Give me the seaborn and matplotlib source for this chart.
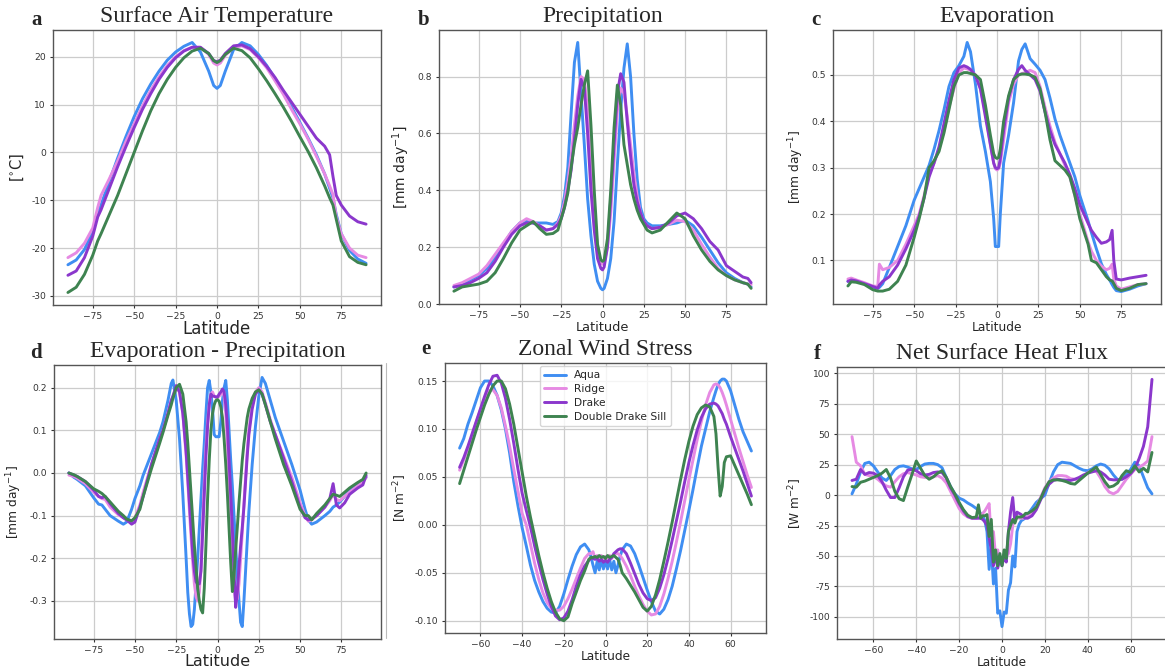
import numpy as np
import pandas as pd
import matplotlib
matplotlib.use("Agg")
import matplotlib.pyplot as plt
from matplotlib.lines import Line2D
from matplotlib.ticker import FormatStrFormatter
import seaborn as sns

# ---------------------------------------------------------------- runs
runs = ["Aqua", "Ridge", "Drake", "Double Drake Sill"]
run_colors = ["#3f8ef2", "#e68ae3", "#8b37cc", "#3e8350"]

# ---------------------------------------------------------------- (a) surface air temperature [degC]
lat_a = [-90, -85, -80, -75, -72, -70, -65, -60, -55, -50, -45, -40, -35, -30, -25, -20, -15, -10, -5, -2, 0,
         2, 5, 10, 15, 20, 25, 30, 35, 40, 45, 50, 55, 60, 65, 68, 70, 72, 75, 80, 85, 90]
sat_aqua = [-23.5, -22.5, -20.3, -16.5, -13, -11, -6, -1.2, 3.3, 7.5, 11.2, 14.3, 17, 19.3, 21, 22.2, 23, 21, 17, 14, 13.4,
            14, 17, 21.5, 23, 22.3, 20.5, 18.2, 15.5, 12.5, 9.5, 6.3, 3, -0.5, -4.5, -7.5, -9.5, -13, -17, -20.5, -22.3, -23.2]
sat_ridge = [-22, -21, -19, -15.8, -11.5, -9, -5.5, -1.8, 2.3, 6, 9.7, 13, 15.8, 18.2, 20, 21.3, 22, 22, 20.5, 18.7, 18.3,
             18.7, 20.3, 22, 22.3, 21.5, 19.8, 17.7, 15, 12.2, 9, 6, 2.8, -0.8, -4.5, -7, -8.8, -13.5, -17, -20, -21.5, -22]
sat_drake = [-25.7, -24.8, -22, -17.5, -13.5, -12, -7.5, -3, 1.2, 5.2, 9, 12.3, 15.3, 17.8, 19.8, 21.2, 22, 22, 20.7, 19.2, 19,
             19.3, 20.7, 22.3, 22.5, 21.7, 20, 18, 15.7, 13, 10.5, 8, 5.5, 3, 1.3, -0.5, -5, -9, -11, -13.3, -14.5, -15]
sat_dds = [-29.3, -28.2, -25.5, -21.5, -18.5, -17, -13, -9, -4.5, 0, 4.5, 8.7, 12.3, 15.3, 17.8, 19.8, 21.2, 21.8, 20.7, 19.2, 18.8,
           19.2, 20.5, 21.8, 21.3, 19.8, 17.5, 15, 12.3, 9.5, 6.5, 3.3, 0.2, -3.2, -7, -9.5, -11, -14, -18.5, -21.8, -23, -23.5]

# ---------------------------------------------------------------- (b) precipitation [mm/day]
lat_b = [-90, -85, -80, -75, -70, -65, -60, -55, -50, -46, -42, -38, -34, -30, -27, -25, -23, -21, -19, -17, -15, -13, -11,
         -9, -7, -5, -3, -1, 0, 1, 3, 5, 7, 9, 11, 13, 15, 17, 19, 21, 23, 25, 27, 30, 35, 40, 45, 50, 55, 60, 65, 70, 75,
         80, 85, 88, 90]
pr_aqua = [.06, .07, .085, .1, .125, .165, .21, .255, .285, .292, .285, .285, .285, .28, .29, .32, .38, .48, .67, .85, .92,
           .74, .56, .37, .24, .14, .08, .055, .05, .055, .09, .16, .29, .49, .68, .83, .915, .8, .6, .44, .34, .3, .285,
           .275, .275, .28, .285, .295, .275, .235, .19, .145, .11, .09, .075, .07, .06]
pr_ridge = [.065, .075, .09, .105, .135, .175, .215, .255, .285, .3, .29, .275, .26, .265, .285, .31, .36, .43, .52, .63, .73,
            .8, .79, .68, .5, .33, .2, .145, .14, .145, .2, .32, .5, .68, .76, .74, .66, .56, .46, .38, .32, .29, .275,
            .265, .27, .28, .295, .29, .26, .21, .165, .125, .1, .085, .075, .07, .068]
pr_drake = [.06, .065, .075, .09, .11, .15, .2, .245, .275, .285, .285, .275, .26, .265, .28, .3, .34, .4, .47, .58, .7,
            .79, .76, .6, .4, .26, .16, .125, .12, .13, .2, .37, .56, .74, .81, .78, .64, .52, .42, .36, .32, .29, .275,
            .265, .27, .285, .31, .32, .3, .265, .22, .19, .135, .115, .095, .09, .075]
pr_dds = [.045, .06, .065, .07, .08, .11, .16, .215, .26, .275, .29, .265, .245, .248, .26, .3, .34, .39, .48, .56, .62,
          .7, .77, .82, .63, .4, .21, .155, .15, .155, .23, .4, .62, .77, .7, .56, .49, .42, .37, .33, .3, .28, .26,
          .25, .26, .29, .32, .3, .24, .19, .15, .12, .1, .085, .075, .07, .055]

# ---------------------------------------------------------------- (c) evaporation [mm/day]
lat_c = [-90, -88, -85, -80, -75, -72, -71, -69, -65, -60, -55, -50, -47, -44, -41, -38, -35, -32, -29, -26, -23, -20, -18,
         -16, -13, -10, -7, -4, -2, -1, 0, 1, 2, 4, 7, 10, 13, 15, 17, 20, 23, 26, 29, 32, 35, 38, 41, 44, 47, 50, 55,
         57, 60, 63, 66, 68, 69.5, 70.5, 72, 75, 80, 85, 90]
ev_aqua = [.055, .057, .055, .05, .043, .04, .042, .05, .085, .13, .175, .23, .255, .28, .305, .34, .38, .425, .475, .505,
           .52, .54, .57, .55, .48, .39, .335, .27, .19, .13, .13, .13, .2, .31, .37, .44, .53, .555, .567, .535, .523,
           .51, .49, .45, .405, .37, .34, .31, .28, .24, .185, .16, .125, .093, .07, .058, .048, .042, .035, .033, .038,
           .045, .05]
ev_ridge = [.06, .062, .058, .052, .045, .044, .092, .08, .085, .1, .135, .175, .2, .24, .285, .31, .34, .38, .43, .47,
            .505, .515, .513, .51, .5, .47, .42, .35, .31, .298, .295, .298, .31, .36, .44, .48, .5, .503, .505, .51,
            .505, .475, .43, .39, .355, .33, .305, .28, .24, .2, .14, .12, .1, .088, .08, .083, .092, .06, .045, .038,
            .043, .048, .05]
ev_drake = [.055, .058, .056, .05, .044, .04, .047, .055, .065, .09, .125, .165, .195, .235, .28, .31, .345, .395, .445,
            .49, .515, .52, .517, .512, .498, .47, .41, .35, .31, .3, .298, .3, .32, .38, .45, .49, .512, .52, .51, .5,
            .49, .465, .42, .38, .35, .33, .31, .285, .255, .22, .18, .165, .15, .137, .14, .145, .165, .1, .06, .058,
            .062, .065, .068]
ev_dds = [.045, .054, .053, .048, .037, .034, .034, .034, .038, .055, .09, .15, .19, .235, .3, .315, .335, .375, .425,
          .475, .5, .505, .505, .503, .5, .49, .435, .37, .33, .322, .32, .322, .34, .4, .455, .49, .5, .502, .502, .5,
          .495, .47, .42, .36, .315, .305, .295, .28, .24, .19, .135, .1, .095, .08, .065, .058, .056, .05, .04, .035,
          .04, .048, .05]

# ---------------------------------------------------------------- (d) evaporation minus precipitation [mm/day]
lat_d = [-90, -87, -85, -80, -75, -72, -70, -68, -65, -60, -57, -55, -52, -50, -47, -45, -40, -35, -33, -30, -28, -27,
         -25, -23, -21, -19, -18, -17, -16, -15, -14, -13, -12, -11, -10, -9, -8, -7, -6, -5, -4, -3, -2, -1, 0, 1, 2,
         3, 4, 5, 6, 7, 8, 9, 10, 11, 12, 13, 14, 15, 16, 17, 18, 19, 21, 23, 25, 27, 29, 32, 35, 40, 45, 50, 53, 55,
         57, 60, 65, 68, 70, 72, 74, 77, 80, 85, 88, 90]
emp_aqua = [0, -.01, -.015, -.03, -.058, -.073, -.075, -.085, -.1, -.113, -.12, -.115, -.085, -.06, -.03, -.005, .045,
            .095, .12, .17, .21, .218, .17, .08, -.05, -.2, -.28, -.33, -.36, -.355, -.32, -.26, -.2, -.13, -.06, .01,
            .07, .14, .2, .217, .19, .15, .09, .085, .085, .085, .12, .17, .2, .217, .17, .1, .03, -.03, -.1, -.17, -.24,
            -.3, -.35, -.36, -.3, -.23, -.16, -.09, .02, .11, .18, .224, .21, .17, .13, .075, .02, -.04, -.085, -.11,
            -.12, -.115, -.1, -.09, -.08, -.075, -.068, -.055, -.04, -.025, -.018, -.01]
emp_ridge = [-.005, -.008, -.012, -.025, -.045, -.055, -.06, -.062, -.08, -.098, -.105, -.11, -.115, -.105, -.075,
             -.045, .02, .08, .1, .14, .17, .18, .2, .19, .14, .04, -.02, -.09, -.15, -.21, -.26, -.29, -.3, -.28,
             -.22, -.12, -.02, .06, .12, .16, .185, .19, .18, .178, .178, .18, .185, .19, .18, .14, .07, -.02, -.12,
             -.21, -.27, -.3, -.295, -.26, -.2, -.14, -.07, -.01, .05, .1, .16, .19, .2, .19, .165, .125, .09, .04,
             -.01, -.07, -.1, -.113, -.11, -.1, -.08, -.065, -.05, -.062, -.065, -.055, -.045, -.03, -.022, -.01]
emp_drake = [0, -.005, -.008, -.02, -.04, -.055, -.058, -.055, -.072, -.095, -.105, -.11, -.12, -.115, -.08, -.055,
             .02, .08, .1, .14, .17, .18, .205, .19, .14, .05, -.01, -.07, -.13, -.19, -.23, -.255, -.26, -.26, -.23,
             -.14, -.05, .04, .11, .16, .185, .18, .18, .178, .178, .185, .19, .197, .19, .16, .11, .03, -.05, -.13,
             -.23, -.315, -.28, -.22, -.17, -.127, -.08, -.02, .04, .09, .15, .185, .195, .185, .16, .12, .09, .035,
             -.02, -.08, -.105, -.11, -.108, -.1, -.08, -.06, -.025, -.075, -.082, -.07, -.05, -.035, -.028, -.005]
emp_dds = [0, -.004, -.008, -.02, -.037, -.043, -.048, -.055, -.068, -.09, -.1, -.108, -.112, -.105, -.085, -.055, .01,
           .07, .095, .135, .16, .175, .2, .208, .185, .12, .07, .01, -.05, -.11, -.17, -.22, -.27, -.3, -.32, -.328,
           -.27, -.17, -.06, .03, .1, .14, .16, .17, .172, .168, .155, .13, .08, .02, -.05, -.13, -.21, -.278, -.24,
           -.18, -.127, -.07, -.02, .03, .069, .1, .13, .15, .175, .19, .195, .185, .16, .12, .08, .02, -.03, -.085,
           -.1, -.1, -.11, -.095, -.075, -.06, -.05, -.052, -.055, -.045, -.035, -.022, -.015, 0]

# ---------------------------------------------------------------- (e) zonal wind stress [N/m2]
lat_e = [-70, -68, -66, -64, -62, -60, -58, -56, -54, -52, -50, -48, -46, -44, -42, -40, -38, -36, -34, -32, -30, -28,
         -26, -24, -22, -20, -18, -16, -14, -12, -10, -8, -7, -6, -5, -4, -3, -2, -1, 0, 1, 2, 3, 4, 5, 6, 7, 8, 10, 12,
         14, 16, 18, 20, 22, 24, 26, 28, 30, 32, 34, 36, 38, 40, 42, 44, 46, 48, 50, 52, 53, 54, 55, 56, 57, 58, 60, 62,
         64, 66, 68, 70]
tau_aqua = [.08, .09, .105, .117, .13, .143, .15, .15, .145, .135, .12, .1, .075, .045, .02, -.003, -.022, -.042, -.058,
            -.07, -.08, -.087, -.091, -.092, -.085, -.072, -.057, -.043, -.031, -.023, -.02, -.026, -.033, -.042, -.05,
            -.038, -.047, -.036, -.046, -.038, -.046, -.036, -.047, -.038, -.05, -.042, -.033, -.026, -.02, -.022, -.03,
            -.042, -.055, -.068, -.08, -.09, -.093, -.088, -.078, -.064, -.046, -.027, -.006, .015, .037, .06, .082, .1,
            .118, .133, .14, .146, .15, .152, .152, .15, .14, .125, .11, .097, .087, .077]
tau_ridge = [.057, .068, .08, .093, .107, .12, .132, .14, .141, .135, .122, .103, .082, .058, .035, .012, 0, -.02, -.04,
             -.057, -.071, -.081, -.087, -.089, -.089, -.085, -.077, -.067, -.056, -.045, -.035, -.03, -.03, -.028,
             -.035, -.032, -.036, -.032, -.035, -.033, -.035, -.032, -.035, -.032, -.03, -.03, -.032, -.035, -.043,
             -.053, -.064, -.074, -.083, -.09, -.094, -.093, -.085, -.072, -.056, -.038, -.018, .003, .025, .047, .068,
             .089, .108, .125, .138, .146, .147, .146, .143, .138, .132, .125, .11, .095, .08, .066, .052, .039]
tau_drake = [.06, .07, .082, .095, .108, .121, .134, .146, .155, .156, .148, .132, .11, .085, .058, .033, .015, -.002,
             -.022, -.04, -.057, -.072, -.085, -.095, -.099, -.097, -.09, -.078, -.064, -.052, -.043, -.037, -.035,
             -.035, -.036, -.035, -.038, -.036, -.039, -.037, -.039, -.036, -.034, -.03, -.028, -.026, -.025, -.025,
             -.03, -.04, -.051, -.062, -.071, -.077, -.079, -.076, -.066, -.052, -.035, -.016, .004, .024, .045, .065,
             .083, .099, .112, .121, .126, .127, .126, .124, .12, .116, .11, .105, .092, .08, .068, .056, .043, .03]
tau_dds = [.043, .057, .071, .085, .099, .112, .125, .136, .145, .15, .15, .142, .126, .105, .08, .055, .03, .008, -.012,
           -.032, -.05, -.066, -.08, -.091, -.098, -.1, -.096, -.082, -.07, -.058, -.048, -.036, -.034, -.034, -.033,
           -.034, -.032, -.034, -.033, -.035, -.032, -.034, -.033, -.032, -.034, -.036, -.042, -.05, -.056, -.063, -.07,
           -.078, -.086, -.09, -.085, -.073, -.057, -.038, -.018, .003, .025, .047, .068, .087, .103, .115, .122, .125,
           .123, .113, .095, .06, .03, .04, .065, .071, .072, .062, .052, .042, .032, .021]

# ---------------------------------------------------------------- (f) net surface heat flux [W/m2]
lat_f = [-70, -68, -66, -64, -62, -60, -58, -56, -54, -52, -50, -48, -46, -44, -42, -40, -38, -36, -34, -32, -30, -28,
         -26, -24, -22, -20, -18, -16, -14, -12, -11, -10, -9, -8, -7, -6, -5, -4, -3, -2, -1, 0, 1, 2, 3, 4, 5, 6, 7,
         8, 9, 10, 11, 12, 14, 16, 18, 20, 22, 24, 26, 28, 30, 32, 34, 36, 38, 40, 42, 44, 46, 48, 50, 52, 54, 56, 58,
         60, 62, 64, 66, 68, 70]
qnet_aqua = [1, 9, 19, 26, 27, 24, 19, 14, 12, 16, 21, 23.5, 24, 23, 21.5, 21, 23.5, 25.5, 26, 26, 25, 22.5, 14.5, 7,
             1, -2.5, -4, -6.5, -8.5, -11, -12.4, -15, -17, -21, -30, -61, -42, -73, -60, -97, -95, -108, -96, -97,
             -78, -72, -50, -59, -30, -24, -21, -20, -18, -16, -11, -6, -3, 0, 10, 19, 25, 27, 26.5, 26, 24, 22, 20.5,
             20, 21.5, 24, 25.5, 24.5, 21.5, 16.5, 12.5, 13, 16.5, 21, 27, 24, 15, 6, 1]
qnet_ridge = [48, 27, 24, 17, 16, 15.5, 13, 10, 7.5, 6.5, 11, 15, 17.5, 18.5, 17.5, 16.5, 15, 14.5, 14.5, 15, 16, 14,
              10, 3, -4, -11, -15.5, -18, -19, -19, -18.5, -17, -15, -13, -10, -7, -38, -30, -50, -45, -55, -55, -52,
              -50, -48, -40, -25, -18, -18, -19, -19, -19, -18, -17.5, -15, -10, -2, 6, 11, 14, 16, 16, 15.5, 13.5, 13,
              13, 15.5, 18.5, 20, 19.5, 14, 7, 2.5, 1, 3, 8, 13, 17, 21, 23, 25, 28, 48]
qnet_drake = [12, 13, 21, 17, 18.5, 18, 16, 11, 4, -2, -2, 6, 15, 20.5, 21, 20, 17.5, 16.5, 17, 18.5, 19, 18.5, 14, 6,
              0, -7, -13, -17.5, -19, -19, -19, -19, -20, -22, -25, -35, -45, -58, -48, -60, -52, -58, -50, -55, -30,
              -14, -2, -22, -14, -15, -16, -18, -19, -19, -17, -12, -4, 4, 9, 12, 13, 12.5, 12.3, 12, 13, 14.5, 16.5,
              18, 19, 20, 19, 16.5, 13, 12.5, 12.5, 13, 15, 17.5, 22, 30, 40, 56, 95]
qnet_dds = [7, 6.5, 10.5, 11.5, 13, 14.5, 16, 18, 21, 14, 3, -3, -4.5, 6.5, 17, 28, 22, 16, 13, 15, 18, 20, 14.5, 7, 1,
            -6, -12, -16.5, -18.5, -18, -8, -19, -17, -17, -16, -34, -20, -55, -45, -58, -48, -58, -45, -52, -30, -25,
            -20, -23, -18, -18, -18, -17, -15, -15, -13, -10, -3, 5, 11, 12.5, 12.5, 12, 11, 9.5, 9, 12, 15, 18, 20.5,
            23, 17, 11, 6.5, 7.5, 10, 16, 20, 18.6, 24, 19, 22, 19, 35]

# ---------------------------------------------------------------- panel definitions
panels = [
    dict(letter="a", title="Surface Air Temperature", ylabel=r"[$^{\circ}$C]", lat=lat_a,
         series=[sat_aqua, sat_ridge, sat_drake, sat_dds], box=(53, 381, 30, 305),
         xticks=[-75, -50, -25, 0, 25, 50, 75], yticks=[-30, -20, -10, 0, 10, 20], fmt="%d",
         labsize=12, xlabpad=-0.5, ylabsize=10.5, letter_xy=(31, 25)),
    dict(letter="b", title="Precipitation", ylabel=r"[mm day$^{-1}$]", lat=lat_b,
         series=[pr_aqua, pr_ridge, pr_drake, pr_dds], box=(439, 766, 30, 304),
         xticks=[-75, -50, -25, 0, 25, 50, 75], yticks=[0.0, 0.2, 0.4, 0.6, 0.8], fmt="%.1f",
         labsize=9.3, xlabpad=1, ylabsize=10, letter_xy=(418, 25)),
    dict(letter="c", title="Evaporation", ylabel=r"[mm day$^{-1}$]", lat=lat_c,
         series=[ev_aqua, ev_ridge, ev_drake, ev_dds], box=(833, 1161, 30, 304),
         xticks=[-75, -50, -25, 0, 25, 50, 75], yticks=[0.1, 0.2, 0.3, 0.4, 0.5], fmt="%.1f",
         labsize=8.8, xlabpad=1, ylabsize=8.8, letter_xy=(811, 25)),
    dict(letter="d", title="Evaporation - Precipitation", ylabel=r"[mm day$^{-1}$]", lat=lat_d,
         series=[emp_aqua, emp_ridge, emp_drake, emp_dds], box=(54, 381, 365, 639),
         xticks=[-75, -50, -25, 0, 25, 50, 75], yticks=[-0.3, -0.2, -0.1, 0.0, 0.1, 0.2], fmt="%.1f",
         labsize=11.5, xlabpad=-1, ylabsize=8.8, letter_xy=(30, 358)),
    dict(letter="e", title="Zonal Wind Stress", ylabel=r"[N m$^{-2}$]", lat=lat_e,
         series=[tau_aqua, tau_ridge, tau_drake, tau_dds], box=(445, 766, 363, 633),
         xticks=[-60, -40, -20, 0, 20, 40, 60], yticks=[-0.10, -0.05, 0.0, 0.05, 0.10, 0.15], fmt="%.2f",
         labsize=8.7, xlabpad=1, ylabsize=8.7, letter_xy=(421, 354)),
    dict(letter="f", title="Net Surface Heat Flux", ylabel=r"[W m$^{-2}$]", lat=lat_f,
         series=[qnet_aqua, qnet_ridge, qnet_drake, qnet_dds], box=(837, 1167, 367, 639),
         xticks=[-60, -40, -20, 0, 20, 40, 60], yticks=[-100, -75, -50, -25, 0, 25, 50, 75, 100], fmt="%d",
         labsize=8.7, xlabpad=1, ylabsize=8.7, letter_xy=(814, 359)),
]

# ---------------------------------------------------------------- figure
W, H = 1165, 670
sns.set_style("ticks", {"axes.grid": True, "grid.color": "#cccccc", "axes.edgecolor": "#4d4d4d",
                        "xtick.color": "#333333", "ytick.color": "#333333"})
plt.rcParams["font.family"] = ["DejaVu Sans"]
plt.rcParams["axes.unicode_minus"] = True
fig = plt.figure(figsize=(W / 100, H / 100), dpi=100)
fig.patch.set_facecolor("white")

serif = ["Liberation Serif", "DejaVu Serif"]

for p in panels:
    L, R, T, B = p["box"]
    ax = fig.add_axes([L / W, 1 - B / H, (R - L) / W, (B - T) / H])
    frames = []
    for name, vals in zip(runs, p["series"]):
        frames.append(pd.DataFrame({"Latitude": p["lat"], "value": vals, "run": name}))
    df = pd.concat(frames, ignore_index=True)
    sns.lineplot(data=df, x="Latitude", y="value", hue="run", hue_order=runs,
                 palette=dict(zip(runs, run_colors)), estimator=None, sort=False,
                 linewidth=2.1, legend=(p["letter"] == "e"), ax=ax)
    ax.set_xticks(p["xticks"])
    ax.set_yticks(p["yticks"])
    ax.yaxis.set_major_formatter(FormatStrFormatter(p["fmt"]))
    ax.grid(True, color="#cccccc", linewidth=0.9)
    ax.tick_params(labelsize=6.6, length=2.5, width=0.8, pad=2.5, colors="#333333")
    for s in ax.spines.values():
        s.set_linewidth(1.0)
        s.set_color("#555555")
    ax.set_xlabel("Latitude", fontsize=p["labsize"], labelpad=p["xlabpad"])
    ax.set_ylabel(p["ylabel"], fontsize=p["ylabsize"], labelpad=4)
    ax.set_title(p["title"], family=serif, fontsize=17, pad=6)
    fig.text(p["letter_xy"][0] / W, 1 - p["letter_xy"][1] / H, p["letter"], family=serif,
             fontweight="bold", fontsize=15, ha="left", va="baseline")
    if p["letter"] == "e":
        leg = ax.legend(loc="upper center", fontsize=7.7, labelspacing=0.35, borderaxespad=0.3,
                        handlelength=2.0, frameon=True)
        for line in leg.get_lines():
            line.set_linewidth(2.1)

# thin divider left of panel e
fig.add_artist(Line2D([386 / W, 386 / W], [1 - 363 / H, 1 - 638 / H], color="#bbbbbb", linewidth=0.8))

fig.savefig("out.png", dpi=100, facecolor="white")
